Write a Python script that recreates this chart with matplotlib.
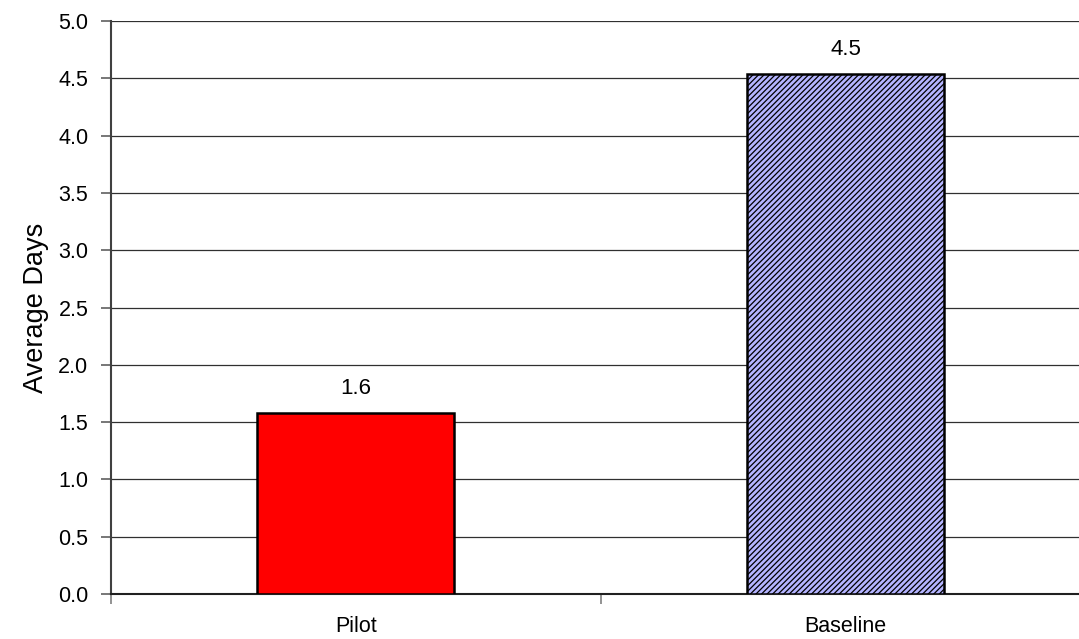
import matplotlib
matplotlib.use("Agg")
import matplotlib.pyplot as plt
import numpy as np

categories = ["Pilot", "Baseline"]
values = [1.58, 4.54]
yticks = [0.0, 0.5, 1.0, 1.5, 2.0, 2.5, 3.0, 3.5, 4.0, 4.5, 5.0]
ylabel = "Average Days"

plt.rcParams['font.family'] = ['Liberation Sans', 'DejaVu Sans']
plt.rcParams['hatch.linewidth'] = 0.9
plt.rcParams['hatch.color'] = '#3c3cff'

fig = plt.figure(figsize=(10.79, 6.39), dpi=100)
ax = fig.add_axes([0.1026, 0.0704, 0.908, 0.8967])

x = np.arange(len(categories))
bars = ax.bar(x, values, width=0.402, edgecolor='black', linewidth=1.8, zorder=3)
bars[0].set_facecolor('#ff0000')
bars[1].set_facecolor('#b4b4ff')
bars[1].set_hatch('//////')

for xi, v in zip(x, values):
    ax.annotate(f"{v:.1f}", (xi, v), xytext=(0, 10), textcoords='offset points',
                ha='center', va='bottom', fontsize=16)

ax.set_xlim(-0.5, 1.5)
ax.set_ylim(0, 5.0)
ax.set_yticks(yticks)
ax.set_yticklabels([f"{t:.1f}" for t in yticks], fontsize=15.5)
ax.set_xticks([-0.5, 0.5, 1.5])
ax.set_xticklabels([])
ax.set_xticks(x, minor=True)
ax.set_xticklabels(categories, minor=True, fontsize=15.5)
ax.tick_params(axis='x', which='minor', length=0, pad=16)
ax.tick_params(axis='x', which='major', length=7, width=1.2, color='#808080')
ax.tick_params(axis='y', length=7, width=1.2, color='#606060', pad=9)

ax.yaxis.grid(True, color='#303030', linewidth=0.9, zorder=0)
ax.set_axisbelow(True)
for s in ['top', 'right']:
    ax.spines[s].set_visible(False)
ax.spines['left'].set_color('#404040')
ax.spines['left'].set_linewidth(1.5)
ax.spines['bottom'].set_color('#202020')
ax.spines['bottom'].set_linewidth(1.5)

ax.set_ylabel(ylabel, fontsize=19.5, labelpad=7)

fig.savefig("out.png", dpi=100)
